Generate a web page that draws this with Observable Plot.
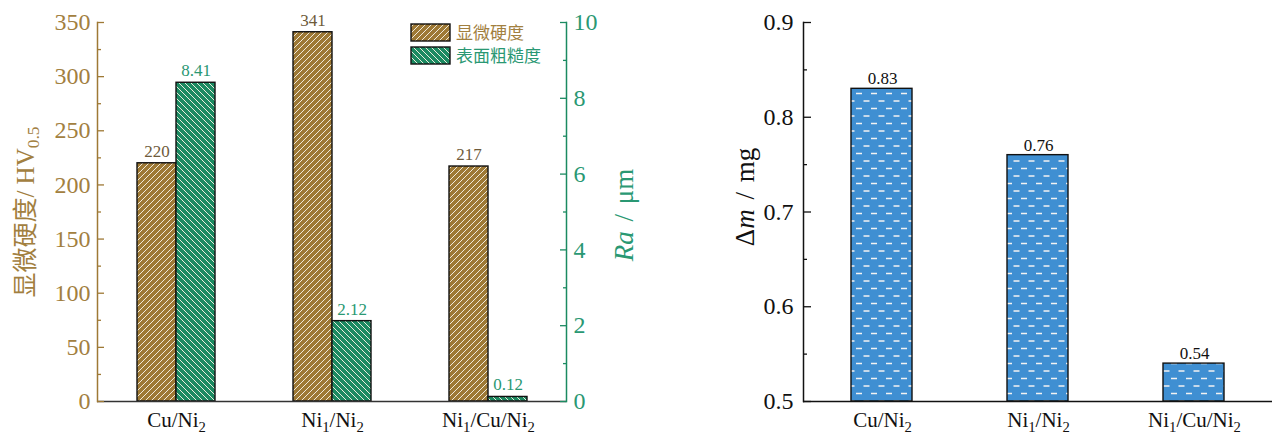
<!DOCTYPE html>
<html><head><meta charset="utf-8">
<script src="https://cdn.jsdelivr.net/npm/d3@7"></script>
<script src="https://cdn.jsdelivr.net/npm/@observablehq/plot@0.6"></script>
<style>
html,body{margin:0;padding:0;background:#fff;}
#wrap{display:flex;width:1272px;height:435px;}
#left{width:660px;height:435px;}
#right{width:612px;height:435px;}
svg{display:block;}
svg text{font-family:"Liberation Serif","Times New Roman","Noto Sans CJK SC",serif !important;font-variant-numeric:normal !important;}
</style></head><body>
<div id="wrap"><div id="left"></div><div id="right"></div></div>
<script>
// ---- data ----
const samples = ["Cu/Ni_2", "Ni_1/Ni_2", "Ni_1/Cu/Ni_2"];
const hardness = [220, 341, 217];          // HV0.5
const roughness = [8.41, 2.12, 0.12];      // Ra, µm
const massLoss = [0.83, 0.76, 0.54];       // Δm, mg
const hardnessTicks = [0, 50, 100, 150, 200, 250, 300, 350];
const raTicks = [0, 2, 4, 6, 8, 10];
const massTicks = [0.5, 0.6, 0.7, 0.8, 0.9];
const legendLabels = ["显微硬度", "表面粗糙度"];

// ---- styles ----
const FONT = '"Liberation Serif","Times New Roman","Noto Sans CJK SC",serif';
const brown = "#9e7935", brownText = "#a2803f", brownVal = "#6e5a3a";
const green = "#1b8a61", greenText = "#2a9873", blue = "#3f8fd2";
const F = 350 / 10; // Ra axis -> hardness axis factor

const rows = samples.map((s, i) => ({sample: s, hv: hardness[i], ra: roughness[i]}));
const mrows = samples.map((s, i) => ({sample: s, m: massLoss[i]}));
const hvMinor = d3.range(25, 350, 50);
const raMinor = d3.range(1, 10, 2).map(v => v * F);
const mMinor = [0.55, 0.65, 0.75, 0.85];

const left = Plot.plot({
  width: 660, height: 435, marginLeft: 97, marginRight: 94, marginTop: 22, marginBottom: 34,
  style: {fontFamily: FONT, background: "transparent", overflow: "visible"},
  x: {domain: samples, padding: 0, label: null},
  y: {domain: [0, 350], label: null},
  marks: [
    Plot.barY(rows, {x: "sample", y: "hv", fill: "url(#hatchBrown)", stroke: "#111", strokeWidth: 1.4, insetLeft: 39, insetRight: 78}),
    Plot.barY(rows, {x: "sample", y: d => d.ra * F, fill: "url(#hatchGreen)", stroke: "#111", strokeWidth: 1.4, insetLeft: 78, insetRight: 39}),
    Plot.text(rows, {x: "sample", y: "hv", text: d => String(d.hv), dx: -19.5, dy: -12, fill: brownVal, fontSize: 17, fontFamily: FONT}),
    Plot.text(rows, {x: "sample", y: d => d.ra * F, text: d => d.ra.toFixed(2), dx: 19.5, dy: -12, fill: greenText, fontSize: 17, fontFamily: FONT}),
    Plot.ruleY([0], {stroke: "#333", strokeWidth: 1.5}),
    Plot.frame({anchor: "left", stroke: brown, strokeWidth: 1.5}),
    Plot.frame({anchor: "right", stroke: green, strokeWidth: 1.5}),
    Plot.axisY(hardnessTicks, {anchor: "left", tickSize: 0, tickPadding: 7, color: brownText, fontSize: 24, fontFamily: FONT}),
    Plot.axisY(hardnessTicks, {anchor: "left", tickSize: 7, dx: 7, tickFormat: () => "", color: brown, strokeWidth: 1.3}),
    Plot.axisY(hvMinor, {anchor: "left", tickSize: 4, dx: 4, tickFormat: () => "", color: brown, strokeWidth: 1.3}),
    Plot.axisY(raTicks.map(v => v * F), {anchor: "right", tickSize: 0, tickPadding: 7, tickFormat: v => String(Math.round(v / F)), color: greenText, fontSize: 24, fontFamily: FONT}),
    Plot.axisY(raTicks.map(v => v * F), {anchor: "right", tickSize: 7, dx: -7, tickFormat: () => "", color: green, strokeWidth: 1.3}),
    Plot.axisY(raMinor, {anchor: "right", tickSize: 4, dx: -4, tickFormat: () => "", color: green, strokeWidth: 1.3}),
    Plot.axisX({tickSize: 0, tickPadding: 11, fontSize: 21, color: "#111", fontFamily: FONT})
  ]
});

const right = Plot.plot({
  width: 612, height: 435, marginLeft: 143, marginRight: 0, marginTop: 22, marginBottom: 34,
  style: {fontFamily: FONT, background: "transparent", overflow: "visible"},
  x: {domain: samples, padding: 0, label: null},
  y: {domain: [0.5, 0.9], label: null},
  marks: [
    Plot.barY(mrows, {x: "sample", y1: 0.5, y2: "m", fill: "url(#dashBlue)", stroke: "#111", strokeWidth: 1.4, insetLeft: 47, insetRight: 48}),
    Plot.text(mrows, {x: "sample", y: "m", text: d => d.m.toFixed(2), dy: -10, fill: "#111", fontSize: 17, fontFamily: FONT}),
    Plot.ruleY([0.5], {stroke: "#111", strokeWidth: 1.5}),
    Plot.frame({anchor: "left", stroke: "#111", strokeWidth: 1.5}),
    Plot.axisY(massTicks, {anchor: "left", tickSize: 0, tickPadding: 10, tickFormat: d => d.toFixed(1), color: "#111", fontSize: 24, fontFamily: FONT}),
    Plot.axisY(massTicks, {anchor: "left", tickSize: 8, dx: 8, tickFormat: () => "", color: "#111", strokeWidth: 1.3}),
    Plot.axisY(mMinor, {anchor: "left", tickSize: 4, dx: 4, tickFormat: () => "", color: "#111", strokeWidth: 1.3}),
    Plot.axisX({tickSize: 0, tickPadding: 11, fontSize: 21, color: "#111", fontFamily: FONT})
  ]
});

document.getElementById("left").appendChild(left);
document.getElementById("right").appendChild(right);

// ---- patterns ----
const defs = d3.select(left).insert("defs", ":first-child");
function hatch(id, color, d) {
  const p = defs.append("pattern").attr("id", id).attr("patternUnits", "userSpaceOnUse").attr("width", 6).attr("height", 6);
  p.append("rect").attr("width", 6).attr("height", 6).attr("fill", color);
  p.append("path").attr("d", d).attr("stroke", "#f6f0e4").attr("stroke-width", 0.95).attr("fill", "none");
}
hatch("hatchBrown", brown, "M-1.5,1.5 l3,-3 M0,6 l6,-6 M4.5,7.5 l3,-3");
hatch("hatchGreen", green, "M-1.5,4.5 l3,3 M0,0 l6,6 M4.5,-1.5 l3,3");
const pb = defs.append("pattern").attr("id", "dashBlue").attr("patternUnits", "userSpaceOnUse").attr("width", 15).attr("height", 15).attr("x", 0).attr("y", 0);
pb.append("rect").attr("width", 15).attr("height", 15).attr("fill", blue);
pb.append("path").attr("d", "M1,3.5 h6 M8.5,11 h6").attr("stroke", "#f2f2f2").attr("stroke-width", 1.5);

// ---- subscripts in text ----
function richText(sel, parts) {
  sel.text(null);
  let shifted = false;
  for (const [t, kind] of parts) {
    const ts = sel.append("tspan").text(t);
    if (kind === "sub") { ts.attr("font-size", "70%").attr("dy", "0.3em"); shifted = true; }
    else if (kind === "it") { ts.attr("font-style", "italic"); if (shifted) { ts.attr("dy", "-0.21em"); shifted = false; } }
    else if (shifted) { ts.attr("dy", "-0.21em"); shifted = false; }
  }
}
function parseLabel(s) {
  const parts = [];
  s.split(/(_\d)/).forEach(seg => { if (!seg) return; if (seg[0] === "_") parts.push([seg.slice(1), "sub"]); else parts.push([seg, ""]); });
  return parts;
}
for (const svg of [left, right]) {
  d3.select(svg).selectAll('g[aria-label="x-axis tick label"] text').each(function() {
    const s = this.textContent; richText(d3.select(this), parseLabel(s));
  });
}

// ---- axis titles ----
const L = d3.select(left);
richText(L.append("text").attr("transform", "translate(34,212) rotate(-90)").attr("text-anchor", "middle")
  .attr("fill", brownText).attr("font-size", 25), [["显微硬度/ HV", ""], ["0.5", "sub"]]);
richText(L.append("text").attr("transform", "translate(633,215) rotate(-90)").attr("text-anchor", "middle")
  .attr("fill", greenText).attr("font-size", 27).attr("word-spacing", 3), [["Ra", "it"], [" / μm", ""]]);
const R = d3.select(right);
richText(R.append("text").attr("transform", "translate(94,197) rotate(-90)").attr("text-anchor", "middle")
  .attr("fill", "#111").attr("font-size", 27).attr("word-spacing", 3), [["Δ", ""], ["m", "it"], [" / mg", ""]]);

// ---- legend ----
const lg = L.append("g").attr("font-size", 17);
[["url(#hatchBrown)", brownText], ["url(#hatchGreen)", greenText]].forEach(([f, c], i) => {
  lg.append("rect").attr("x", 411).attr("y", 24 + i * 23).attr("width", 39).attr("height", 17).attr("fill", f).attr("stroke", "#111").attr("stroke-width", 1.4);
  lg.append("text").attr("x", 456).attr("y", 33 + i * 23).attr("text-anchor", "start").attr("dominant-baseline", "central").attr("fill", c).text(legendLabels[i]);
});
</script>
</body></html>
